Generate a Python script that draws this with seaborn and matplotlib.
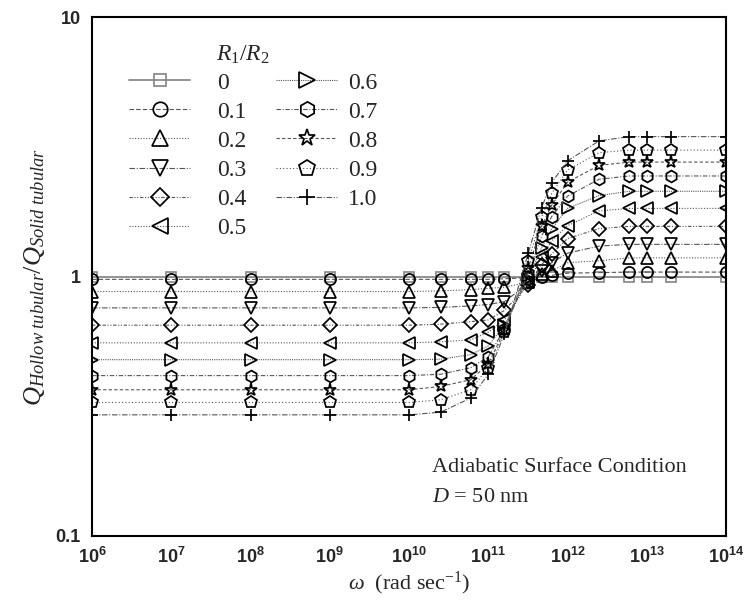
import numpy as np
import pandas as pd
import matplotlib
matplotlib.use("Agg")
import matplotlib.pyplot as plt
from matplotlib.ticker import FixedLocator, FixedFormatter, NullFormatter
import seaborn as sns

# ---------------- data ----------------
omega = [1e6, 1e7, 1e8, 1e9, 1e10, 2.5e10, 6e10, 1e11, 1.6e11, 3.2e11,
         4.7e11, 6.3e11, 1e12, 2.5e12, 6e12, 1e13, 2e13, 1e14]

ratio_labels = ["0", "0.1", "0.2", "0.3", "0.4", "0.5", "0.6", "0.7", "0.8", "0.9", "1.0"]

q_r00 = [1.0] * 18
q_r01 = [0.975, 0.975, 0.975, 0.975, 0.975, 0.975, 0.975, 0.975, 0.98, 0.99,
         1.0, 1.01, 1.03, 1.035, 1.04, 1.04, 1.04, 1.04]
q_r02 = [0.875, 0.875, 0.875, 0.875, 0.875, 0.88, 0.89, 0.90, 0.91, 0.95,
         1.02, 1.05, 1.13, 1.15, 1.18, 1.18, 1.18, 1.18]
q_r03 = [0.757, 0.757, 0.757, 0.757, 0.757, 0.76, 0.77, 0.78, 0.80, 0.94,
         1.05, 1.13, 1.23, 1.31, 1.33, 1.33, 1.33, 1.33]
q_r04 = [0.649, 0.649, 0.649, 0.649, 0.649, 0.655, 0.67, 0.68, 0.74, 0.93,
         1.11, 1.22, 1.40, 1.53, 1.56, 1.56, 1.56, 1.56]
q_r05 = [0.555, 0.555, 0.555, 0.555, 0.555, 0.56, 0.57, 0.61, 0.68, 0.95,
         1.19, 1.37, 1.57, 1.79, 1.83, 1.83, 1.83, 1.83]
q_r06 = [0.478, 0.478, 0.478, 0.478, 0.478, 0.48, 0.50, 0.54, 0.65, 0.98,
         1.29, 1.52, 1.83, 2.05, 2.13, 2.13, 2.13, 2.13]
q_r07 = [0.415, 0.415, 0.415, 0.415, 0.415, 0.42, 0.445, 0.49, 0.63, 1.03,
         1.43, 1.70, 2.04, 2.37, 2.44, 2.44, 2.44, 2.44]
q_r08 = [0.366, 0.366, 0.366, 0.366, 0.366, 0.377, 0.40, 0.46, 0.62, 1.08,
         1.56, 1.88, 2.31, 2.68, 2.76, 2.76, 2.76, 2.76]
q_r09 = [0.327, 0.327, 0.327, 0.327, 0.327, 0.335, 0.366, 0.445, 0.61, 1.15,
         1.69, 2.09, 2.57, 3.00, 3.07, 3.07, 3.07, 3.07]
q_r10 = [0.293, 0.293, 0.293, 0.293, 0.293, 0.30, 0.34, 0.42, 0.60, 1.23,
         1.84, 2.30, 2.79, 3.33, 3.46, 3.46, 3.46, 3.46]

series = [q_r00, q_r01, q_r02, q_r03, q_r04, q_r05, q_r06, q_r07, q_r08, q_r09, q_r10]

x_ticks = [1e6, 1e7, 1e8, 1e9, 1e10, 1e11, 1e12, 1e13, 1e14]
x_tick_labels = [r"$\mathbf{10^{%d}}$" % e for e in range(6, 15)]
y_ticks = [0.1, 1, 10]
y_tick_labels = ["0.1", "1", "10"]

# ---------------- styles ----------------
markers = ["s", "o", "^", "v", "D", "<", ">", "h", "*", "p", "+"]
msizes = [7, 8, 9, 9, 7, 9, 9, 8.5, 9.5, 9, 9]
linestyles = ["-", (0, (4, 2)), (0, (1, 1.5)), (0, (5, 1.5, 1, 1.5)),
              (0, (3, 1.5, 1, 1.5, 1, 1.5)), (0, (1, 1.5)), (0, (1, 1)),
              (0, (4, 1.5, 1, 1.5)), (0, (3, 2)), (0, (1, 2)), (0, (5, 1.5, 1, 1.5))]

sns.set_theme(style="white")
plt.rcParams["font.family"] = ["Liberation Serif", "DejaVu Serif"]
plt.rcParams["mathtext.fontset"] = "custom"
plt.rcParams["mathtext.rm"] = "Liberation Serif"
plt.rcParams["mathtext.it"] = "Liberation Serif:italic"
plt.rcParams["mathtext.bf"] = "Liberation Sans:bold"

fig = plt.figure(figsize=(7.46, 6.06), dpi=100)
ax = fig.add_axes([92 / 746, 1 - 536 / 606, (726 - 92) / 746, (536 - 17) / 606])

for i, vals in enumerate(series):
    df = pd.DataFrame({"omega": omega, "Q": vals})
    mec = "#8a8a8a" if i == 0 else "black"
    lc = "#8a8a8a" if i == 0 else "#555555"
    lw = 1.3 if i == 0 else 0.8
    sns.lineplot(data=df, x="omega", y="Q", ax=ax, color=lc, linewidth=lw,
                 linestyle=linestyles[i], marker=markers[i], markersize=msizes[i],
                 markerfacecolor="none" if markers[i] != "+" else "black",
                 markeredgecolor=mec, markeredgewidth=1.25,
                 label=ratio_labels[i], errorbar=None, sort=False)

ax.set_xscale("log")
ax.set_yscale("log")
ax.set_xlim(1e6, 1e14)
ax.set_ylim(0.1, 10)

ax.xaxis.set_major_locator(FixedLocator(x_ticks))
ax.xaxis.set_major_formatter(FixedFormatter(x_tick_labels))
ax.yaxis.set_major_locator(FixedLocator(y_ticks))
ax.yaxis.set_major_formatter(FixedFormatter(y_tick_labels))
xmin = [k * 10 / 6 * 10.0 ** e for e in range(6, 14) for k in range(1, 6)]
ymin = [k * 10 / 6 * 10.0 ** e for e in range(-1, 1) for k in range(1, 6)]
ax.xaxis.set_minor_locator(FixedLocator(xmin))
ax.yaxis.set_minor_locator(FixedLocator(ymin))
ax.xaxis.set_minor_formatter(NullFormatter())
ax.yaxis.set_minor_formatter(NullFormatter())

ax.tick_params(which="both", direction="in", top=False, right=False, color="black")
ax.tick_params(which="major", length=8, width=1.3)
ax.tick_params(which="minor", length=4, width=1.1)
ax.tick_params(axis="x", which="major", pad=8, labelsize=13)
ax.tick_params(axis="y", which="major", pad=8, labelsize=13)
for lab in ax.get_yticklabels():
    lab.set_fontfamily("Liberation Sans")
    lab.set_fontweight("bold")

for sp in ax.spines.values():
    sp.set_color("black")
    sp.set_linewidth(1.5)

ax.set_xlabel(r"$\omega$  (rad sec$^{\mathrm{-1}}$)", fontsize=16, labelpad=2)
ax.set_ylabel(r"$Q_{Hollow\ tubular}/Q_{Solid\ tubular}$", fontsize=19, labelpad=6)

handles, labels = ax.get_legend_handles_labels()
common = dict(frameon=False, loc="upper left", bbox_transform=fig.transFigure,
              fontsize=17, numpoints=1, handlelength=2.6, labelspacing=0.32,
              borderpad=0, borderaxespad=0, markerscale=1.3)
leg1 = ax.legend(handles[:6], labels[:6], bbox_to_anchor=(129 / 746, 1 - 72 / 606),
                 handletextpad=1.15, **common)
ax.add_artist(leg1)
leg2 = ax.legend(handles[6:], labels[6:], bbox_to_anchor=(276 / 746, 1 - 72 / 606),
                 handletextpad=0.45, **common)
fig.text(243 / 746, 1 - 55 / 606, r"$R_1/R_2$", fontsize=17, ha="center", va="center")

fig.text(432 / 746, 1 - 468 / 606, "Adiabatic Surface Condition", fontsize=16,
         va="center", ha="left")
fig.text(432 / 746, 1 - 498 / 606, r"$D$ = 50 nm", fontsize=16, va="center", ha="left")

fig.savefig("out.png", dpi=100)
